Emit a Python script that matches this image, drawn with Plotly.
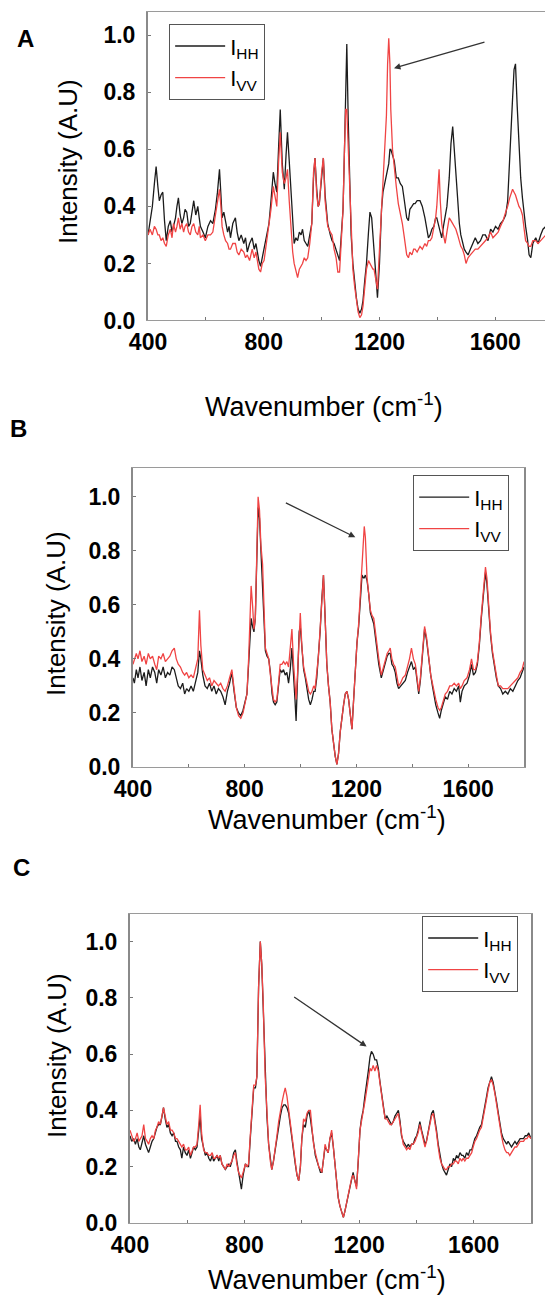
import plotly.graph_objects as go

# Polarised Raman spectra, three samples (A, B, C)
# I_HH = black, I_VV = red

# ---- panel A ----
wn_a = [400, 407, 415, 422, 428, 434, 439, 445, 451, 457,
        463, 470, 477, 483, 488, 495, 500, 505, 511, 517,
        523, 528, 534, 540, 546, 552, 558, 565, 572, 577,
        581, 590, 598, 607, 616, 624, 633, 640, 647, 652,
        656, 662, 668, 675, 680, 685, 693, 702, 708, 714,
        722, 731, 737, 743, 751, 760, 767, 773, 778, 783,
        789, 795, 801, 809, 818, 825, 833, 839, 845, 851,
        857, 864, 871, 877, 882, 888, 894, 900, 905, 911,
        917, 923, 929, 934, 940, 946, 952, 959, 966, 972,
        977, 983, 988, 992, 1000, 1006, 1012, 1021, 1030, 1036,
        1043, 1050, 1056, 1062, 1068, 1074, 1079, 1083, 1087, 1092,
        1097, 1102, 1108, 1114, 1120, 1126, 1132, 1138, 1143, 1149,
        1155, 1162, 1167, 1173, 1177, 1181, 1187, 1193, 1200, 1207,
        1212, 1218, 1224, 1228, 1232, 1236, 1239, 1245, 1251, 1258,
        1265, 1272, 1279, 1286, 1294, 1300, 1305, 1312, 1318, 1323,
        1330, 1340, 1348, 1357, 1363, 1369, 1375, 1381, 1388, 1394,
        1398, 1403, 1406, 1410, 1415, 1421, 1427, 1433, 1441, 1447,
        1453, 1458, 1464, 1470, 1476, 1481, 1487, 1493, 1499, 1506,
        1514, 1522, 1531, 1540, 1549, 1557, 1566, 1575, 1584, 1592,
        1601, 1610, 1618, 1627, 1636, 1643, 1650, 1655, 1660, 1665,
        1670, 1676, 1682, 1688, 1694, 1700, 1705, 1712, 1717, 1723,
        1730, 1740, 1748, 1757, 1765, 1775]
hh_a = [.30, .34, .40, .48, .54, .47, .42, .44, .45, .35,
        .28, .33, .35, .31, .33, .36, .40, .43, .37, .34,
        .36, .39, .38, .33, .34, .39, .42, .37, .40, .36,
        .33, .31, .29, .33, .35, .34, .39, .45, .53, .44,
        .36, .38, .34, .31, .33, .29, .34, .36, .31, .28,
        .30, .27, .29, .24, .27, .29, .25, .27, .24, .21,
        .19, .22, .25, .30, .34, .42, .52, .48, .45, .60,
        .74, .55, .46, .58, .66, .56, .46, .32, .27, .29,
        .28, .31, .30, .32, .28, .27, .26, .30, .34, .50,
        .57, .46, .40, .41, .50, .57, .44, .34, .30, .28,
        .27, .25, .23, .21, .30, .39, .60, .80, .97, .70,
        .44, .30, .20, .13, .08, .04, .025, .04, .07, .14,
        .20, .31, .38, .36, .30, .27, .16, .08, .20, .39,
        .45, .48, .50, .52, .55, .60, .60, .58, .56, .50,
        .50, .48, .47, .42, .36, .35, .39, .40, .41, .41,
        .42, .42, .40, .36, .33, .29, .30, .32, .33, .36,
        .36, .34, .33, .31, .29, .33, .36, .40, .50, .62,
        .68, .60, .50, .40, .34, .30, .27, .25, .24, .23,
        .25, .27, .29, .27, .28, .30, .30, .28, .32, .31,
        .33, .32, .34, .35, .37, .42, .55, .66, .78, .88,
        .90, .75, .62, .50, .43, .37, .33, .28, .23, .22,
        .27, .29, .27, .30, .32, .33]
vv_a = [.30, .32, .30, .33, .32, .30, .30, .28, .29, .27,
        .26, .30, .32, .29, .34, .31, .33, .36, .32, .34,
        .31, .33, .34, .31, .30, .33, .34, .31, .30, .33,
        .29, .30, .28, .30, .30, .31, .37, .42, .46, .40,
        .33, .30, .28, .27, .25, .25, .27, .27, .24, .23,
        .25, .24, .22, .23, .21, .25, .22, .24, .20, .18,
        .17, .20, .21, .27, .33, .39, .47, .44, .40, .55,
        .66, .52, .48, .50, .53, .42, .32, .24, .20, .17,
        .15, .18, .19, .20, .22, .21, .22, .27, .34, .52,
        .57, .44, .40, .41, .52, .57, .42, .33, .31, .30,
        .25, .22, .17, .17, .28, .39, .60, .74, .74, .60,
        .42, .28, .18, .12, .07, .03, .01, .02, .05, .12,
        .18, .21, .20, .19, .18, .18, .14, .11, .25, .39,
        .48, .56, .72, .90, .99, .90, .74, .60, .53, .47,
        .41, .38, .34, .29, .23, .22, .24, .23, .25, .25,
        .24, .26, .25, .27, .26, .28, .28, .29, .33, .36,
        .40, .50, .53, .42, .34, .30, .27, .31, .36, .35,
        .34, .33, .32, .30, .28, .26, .25, .23, .20, .22,
        .23, .24, .25, .25, .26, .27, .28, .29, .31, .29,
        .30, .31, .33, .35, .38, .40, .43, .45, .46, .45,
        .44, .42, .40, .39, .37, .32, .28, .27, .26, .26,
        .28, .28, .27, .28, .29, .30]

# ---- panel B ----
wn_b = [400, 405, 412, 418, 425, 432, 440, 447, 455, 462,
        470, 478, 485, 492, 500, 508, 516, 524, 532, 540,
        548, 555, 562, 570, 578, 585, 592, 600, 608, 616,
        624, 632, 638, 643, 650, 658, 666, 674, 682, 690,
        698, 706, 714, 722, 730, 738, 746, 754, 762, 770,
        778, 786, 794, 802, 808, 814, 819, 823, 828, 833,
        838, 843, 848, 853, 858, 864, 869, 874, 880, 886,
        892, 898, 903, 909, 915, 921, 927, 933, 939, 945,
        951, 957, 963, 969, 975, 980, 984, 990, 995, 999,
        1005, 1011, 1017, 1023, 1029, 1035, 1041, 1047, 1052, 1058,
        1064, 1070, 1076, 1082, 1088, 1094, 1100, 1106, 1112, 1118,
        1124, 1130, 1136, 1142, 1148, 1154, 1160, 1166, 1172, 1178,
        1184, 1190, 1196, 1202, 1208, 1214, 1220, 1225, 1228, 1232,
        1238, 1244, 1250, 1256, 1262, 1268, 1273, 1280, 1289, 1296,
        1303, 1310, 1316, 1321, 1327, 1333, 1339, 1345, 1351, 1358,
        1366, 1375, 1383, 1390, 1397, 1404, 1411, 1417, 1423, 1429,
        1436, 1444, 1451, 1459, 1466, 1472, 1477, 1484, 1492, 1498,
        1504, 1511, 1518, 1526, 1534, 1542, 1550, 1558, 1566, 1572,
        1578, 1586, 1596, 1605, 1612, 1619, 1626, 1633, 1640, 1647,
        1653, 1658, 1662, 1667, 1673, 1680, 1687, 1694, 1701, 1708,
        1716, 1724, 1733, 1742, 1751, 1760, 1769, 1778, 1786, 1793,
        1800]
hh_b = [.33, .31, .36, .33, .37, .32, .35, .30, .36, .33,
        .37, .35, .31, .36, .34, .37, .33, .35, .34, .37,
        .36, .33, .30, .29, .31, .27, .29, .28, .30, .28,
        .31, .35, .43, .40, .34, .30, .29, .31, .28, .30,
        .27, .29, .28, .26, .23, .28, .31, .35, .28, .22,
        .20, .19, .21, .24, .27, .38, .50, .55, .52, .50,
        .55, .75, .96, .92, .80, .72, .55, .43, .41, .40,
        .35, .27, .24, .23, .24, .30, .36, .35, .36, .34,
        .35, .31, .36, .44, .35, .25, .17, .33, .50, .52,
        .43, .36, .33, .29, .25, .23, .25, .28, .28, .33,
        .40, .50, .62, .71, .55, .38, .30, .24, .14, .08,
        .04, .01, .05, .13, .19, .23, .27, .28, .25, .18,
        .14, .25, .38, .46, .52, .62, .71, .70, .70, .71,
        .69, .64, .57, .55, .53, .48, .43, .38, .33, .36,
        .39, .41, .42, .42, .38, .37, .35, .31, .29, .30,
        .31, .32, .35, .37, .39, .36, .37, .32, .27, .32,
        .42, .51, .47, .39, .34, .30, .27, .23, .20, .18,
        .21, .24, .26, .25, .28, .27, .29, .28, .30, .24,
        .28, .30, .31, .34, .38, .34, .35, .38, .45, .55,
        .63, .70, .72, .68, .58, .49, .42, .37, .33, .30,
        .29, .27, .28, .27, .29, .28, .30, .32, .33, .35,
        .37]
vv_b = [.38, .40, .42, .40, .43, .39, .41, .38, .42, .40,
        .41, .38, .36, .41, .40, .42, .39, .40, .41, .43,
        .44, .40, .38, .37, .35, .34, .35, .33, .34, .33,
        .36, .40, .58, .45, .36, .34, .32, .33, .30, .32,
        .31, .30, .31, .29, .28, .30, .33, .36, .29, .22,
        .19, .18, .20, .24, .27, .40, .58, .67, .60, .51,
        .55, .78, 1.00, .95, .82, .75, .55, .44, .42, .40,
        .34, .28, .25, .24, .25, .31, .38, .38, .39, .38,
        .39, .37, .44, .51, .38, .30, .25, .36, .52, .57,
        .44, .37, .34, .31, .28, .27, .28, .30, .29, .35,
        .41, .51, .62, .71, .55, .38, .30, .24, .14, .08,
        .04, .01, .05, .13, .19, .23, .27, .28, .25, .18,
        .14, .25, .38, .46, .53, .64, .75, .84, .89, .85,
        .70, .64, .58, .56, .55, .50, .45, .40, .34, .37,
        .40, .42, .43, .44, .40, .38, .37, .33, .30, .31,
        .33, .34, .37, .40, .44, .40, .38, .33, .28, .33,
        .43, .52, .48, .40, .34, .31, .28, .25, .22, .21,
        .22, .25, .27, .28, .30, .30, .31, .30, .31, .29,
        .30, .32, .33, .36, .40, .36, .36, .39, .46, .56,
        .64, .71, .74, .70, .59, .50, .43, .38, .34, .30,
        .30, .29, .29, .29, .30, .31, .32, .33, .35, .36,
        .39]

# ---- panel C ----
wn_c = [400, 406, 413, 419, 425, 431, 436, 442, 448, 454,
        460, 465, 471, 477, 483, 489, 494, 500, 506, 512,
        517, 523, 529, 535, 541, 547, 553, 559, 564, 570,
        576, 581, 587, 593, 599, 605, 611, 617, 622, 628,
        634, 640, 645, 650, 657, 663, 669, 675, 681, 687,
        692, 698, 704, 710, 715, 721, 727, 733, 739, 745,
        750, 756, 762, 768, 773, 779, 784, 789, 795, 803,
        809, 814, 820, 826, 832, 838, 843, 849, 855, 860,
        865, 872, 878, 884, 890, 895, 901, 907, 913, 919,
        925, 931, 937, 942, 948, 954, 960, 966, 971, 977,
        983, 989, 995, 1000, 1006, 1012, 1018, 1024, 1030, 1036,
        1041, 1047, 1053, 1059, 1065, 1070, 1076, 1081, 1087, 1092,
        1098, 1104, 1110, 1115, 1121, 1127, 1133, 1139, 1145, 1150,
        1156, 1162, 1168, 1174, 1179, 1185, 1191, 1197, 1203, 1208,
        1214, 1220, 1226, 1232, 1238, 1243, 1249, 1255, 1261, 1267,
        1273, 1279, 1286, 1291, 1297, 1302, 1308, 1313, 1319, 1325,
        1331, 1337, 1343, 1348, 1354, 1360, 1366, 1372, 1377, 1383,
        1389, 1395, 1401, 1406, 1412, 1418, 1424, 1430, 1435, 1441,
        1447, 1453, 1459, 1464, 1470, 1476, 1482, 1488, 1494, 1500,
        1505, 1511, 1517, 1523, 1529, 1534, 1540, 1546, 1552, 1558,
        1563, 1569, 1575, 1581, 1587, 1593, 1598, 1604, 1610, 1616,
        1621, 1627, 1633, 1639, 1645, 1650, 1656, 1662, 1668, 1674,
        1680, 1686, 1691, 1697, 1703, 1709, 1715, 1720, 1726, 1732,
        1738, 1744, 1750, 1756, 1762, 1768, 1774, 1780, 1786, 1792,
        1800]
hh_c = [.31, .29, .30, .28, .30, .27, .26, .29, .31, .28,
        .26, .25, .27, .29, .30, .32, .34, .35, .35, .38,
        .41, .37, .34, .35, .32, .31, .32, .29, .29, .27,
        .26, .23, .27, .25, .24, .26, .23, .25, .27, .26,
        .27, .33, .38, .30, .26, .24, .25, .23, .22, .24,
        .22, .23, .24, .22, .24, .21, .20, .19, .20, .21,
        .20, .22, .25, .26, .22, .18, .15, .12, .17, .21,
        .20, .20, .30, .40, .48, .48, .52, .84, 1.00, .92,
        .78, .52, .38, .28, .22, .19, .22, .26, .30, .35,
        .38, .41, .42, .42, .41, .39, .34, .29, .25, .21,
        .17, .15, .20, .30, .35, .34, .38, .40, .37, .32,
        .28, .24, .22, .20, .18, .18, .23, .27, .26, .25,
        .30, .32, .27, .21, .14, .09, .06, .04, .02, .04,
        .07, .10, .13, .16, .18, .15, .13, .22, .33, .37,
        .40, .45, .49, .54, .59, .61, .60, .58, .58, .55,
        .50, .45, .40, .37, .38, .37, .36, .35, .36, .38,
        .39, .40, .36, .31, .29, .28, .27, .28, .27, .28,
        .28, .30, .31, .33, .36, .33, .30, .28, .29, .32,
        .35, .39, .40, .37, .33, .28, .24, .21, .19, .18,
        .17, .19, .21, .20, .23, .22, .24, .23, .25, .24,
        .24, .23, .25, .24, .26, .26, .28, .30, .31, .33,
        .34, .35, .38, .41, .45, .48, .50, .52, .50, .47,
        .43, .39, .35, .32, .30, .29, .28, .29, .28, .27,
        .28, .29, .28, .29, .30, .30, .30, .31, .31, .32,
        .30]
vv_c = [.33, .31, .29, .30, .32, .29, .30, .31, .35, .30,
        .29, .28, .30, .31, .30, .33, .34, .36, .35, .38,
        .41, .38, .35, .36, .33, .33, .32, .30, .30, .29,
        .28, .27, .28, .26, .26, .27, .24, .26, .27, .27,
        .28, .35, .42, .32, .26, .25, .25, .24, .24, .25,
        .23, .23, .24, .23, .24, .21, .20, .19, .21, .20,
        .21, .22, .24, .25, .21, .18, .17, .16, .18, .21,
        .20, .21, .31, .40, .49, .49, .52, .84, 1.00, .92,
        .79, .52, .38, .28, .22, .19, .22, .26, .31, .36,
        .40, .43, .46, .48, .45, .40, .35, .29, .25, .21,
        .17, .15, .20, .30, .37, .36, .39, .40, .40, .33,
        .28, .25, .22, .20, .19, .18, .23, .28, .26, .25,
        .30, .33, .27, .21, .14, .09, .06, .04, .02, .04,
        .07, .10, .13, .16, .17, .15, .12, .22, .33, .36,
        .39, .43, .47, .51, .55, .54, .56, .54, .56, .54,
        .49, .44, .40, .37, .37, .36, .35, .35, .36, .37,
        .38, .39, .35, .31, .28, .27, .26, .27, .26, .28,
        .28, .29, .31, .32, .35, .32, .29, .27, .29, .32,
        .34, .38, .39, .36, .32, .27, .23, .21, .20, .19,
        .19, .20, .20, .21, .21, .22, .22, .21, .23, .22,
        .23, .22, .23, .23, .24, .25, .27, .29, .30, .32,
        .33, .34, .37, .40, .44, .47, .50, .51, .49, .46,
        .42, .38, .34, .31, .28, .26, .25, .25, .24, .25,
        .26, .27, .27, .28, .29, .29, .29, .30, .30, .31,
        .30]

y_ticks = [0, 0.2, 0.4, 0.6, 0.8, 1.0]
y_ticktext = ["0.0", "0.2", "0.4", "0.6", "0.8", "1.0"]
x_ticks = [400, 800, 1200, 1600]

# arrows pointing at the ~1230 cm-1 band: (head x, head y, tail x, tail y)
arrows = [(1250, 0.885, 1568, 0.978),
          (1196, 0.85, 942, 0.98),
          (1226, 0.627, 968, 0.807)]

HH_COLOR = "#1c1c1c"
VV_COLOR = "#f04444"
FONT = "Liberation Sans"

panels = [(wn_a, hh_a, vv_a), (wn_b, hh_b, vv_b), (wn_c, hh_c, vv_c)]

fig = go.Figure()
for i, (wn, hh, vv) in enumerate(panels):
    n = "" if i == 0 else str(i + 1)
    fig.add_trace(go.Scatter(x=wn, y=hh, mode="lines", name="I<sub>HH</sub>",
                             line=dict(color=HH_COLOR, width=1.3),
                             xaxis="x" + n, yaxis="y" + n, legend="legend" + n))
    fig.add_trace(go.Scatter(x=wn, y=vv, mode="lines", name="I<sub>VV</sub>",
                             line=dict(color=VV_COLOR, width=1.3),
                             xaxis="x" + n, yaxis="y" + n, legend="legend" + n))

# domains picked to sit the three panels like the original figure
x_domains = [[0.2716, 1.0], [0.2440, 0.9615], [0.2385, 0.9743]]
y_domains = [[0.7531, 0.9910], [0.4091, 0.6392], [0.0578, 0.2958]]
x_ranges = [[400, 1772], [400, 1800], [400, 1800]]
y_ranges = [[0, 1.083], [0, 1.105], [0, 1.098]]
legend_pos = [(0.310, 0.9815), (0.7578, 0.634), (0.7743, 0.2943)]

tick_font = dict(family=FONT, size=23, color="black", weight="bold")

layout = dict(width=545, height=1298, margin=dict(l=0, r=0, t=0, b=0),
              paper_bgcolor="white", plot_bgcolor="white", showlegend=True)
for i in range(3):
    n = "" if i == 0 else str(i + 1)
    layout["xaxis" + n] = dict(
        domain=x_domains[i], range=x_ranges[i], anchor="y" + n,
        tickvals=x_ticks, ticks="inside", ticklen=3, tickcolor="#777",
        minor=dict(dtick=200, tick0=400, ticks="inside", ticklen=3, tickcolor="#777"),
        showline=True, linecolor="#9a9a9a", linewidth=1.3, mirror=True,
        showgrid=False, zeroline=False, tickfont=tick_font, automargin=False,
        ticklabelstandoff=1)
    layout["yaxis" + n] = dict(
        domain=y_domains[i], range=y_ranges[i], anchor="x" + n,
        tickvals=y_ticks, ticktext=y_ticktext, ticks="inside", ticklen=3,
        tickcolor="#777", showline=True, linecolor="#8a8a8a", linewidth=2,
        mirror=(i != 0), showgrid=False, zeroline=False, tickfont=tick_font,
        automargin=False, ticklabelstandoff=6)
    lx, ly = legend_pos[i]
    layout["legend" + n] = dict(
        x=lx, y=ly, xanchor="left", yanchor="top", xref="paper", yref="paper",
        bgcolor="white", bordercolor="#555", borderwidth=1.2,
        font=dict(family=FONT, size=22, color="black"), tracegroupgap=0,
        itemwidth=50)

fig.update_layout(**layout)

# axis titles and panel letters (pixel positions from the top-left corner)
y_title_pos = [(68, 162), (56, 614), (57, 1056)]
x_title_pos = [(324, 405), (327, 818), (327, 1278)]
letters = [("A", 25, 38), ("B", 18, 428), ("C", 21, 867)]

for (tx, ty) in y_title_pos:
    fig.add_annotation(text="Intensity (A.U)", x=tx / 545, y=1 - ty / 1298,
                       xref="paper", yref="paper", xanchor="center", yanchor="middle",
                       showarrow=False, textangle=-90,
                       font=dict(family=FONT, size=26, color="black"))
for (tx, ty) in x_title_pos:
    fig.add_annotation(text="Wavenumber (cm<sup>-1</sup>)", x=tx / 545, y=1 - ty / 1298,
                       xref="paper", yref="paper", xanchor="center", yanchor="middle",
                       showarrow=False, font=dict(family=FONT, size=27, color="black"))
for (t, tx, ty) in letters:
    fig.add_annotation(text="<b>" + t + "</b>", x=tx / 545, y=1 - ty / 1298,
                       xref="paper", yref="paper", xanchor="center", yanchor="middle",
                       showarrow=False, font=dict(family=FONT, size=24, color="black"))

for i, (hx, hy, tx, ty) in enumerate(arrows):
    n = "" if i == 0 else str(i + 1)
    fig.add_annotation(x=hx, y=hy, ax=tx, ay=ty, xref="x" + n, yref="y" + n,
                       axref="x" + n, ayref="y" + n, text="", showarrow=True,
                       arrowhead=2, arrowsize=1, arrowwidth=1.3, arrowcolor="#333")

# the page's default body margin would push the figure off the window
fig.write_html("out.html", config={"displayModeBar": False},
               post_script="document.body.style.margin='0px';")
